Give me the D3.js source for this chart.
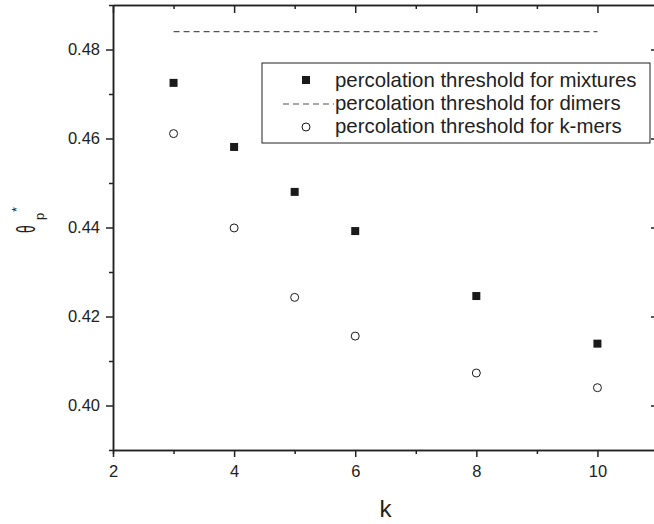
<!DOCTYPE html>
<html>
<head>
<meta charset="utf-8">
<script src="https://cdn.jsdelivr.net/npm/d3@7"></script>
<style>
  body { margin: 0; background: #fff; }
  svg { display: block; font-family: "Liberation Sans", Arial, sans-serif; }
  .axis path, .axis line { stroke: #222; stroke-width: 1.5px; }
  .axis text { fill: #222; font-size: 16.5px; }
</style>
</head>
<body>
<div id="chart"></div>
<script>
// values
var kValues = [3, 4, 5, 6, 8, 10];
var mixtures = [0.4725, 0.4581, 0.4480, 0.4392, 0.4246, 0.4139];
var kmers = [0.4611, 0.4399, 0.4243, 0.4156, 0.4073, 0.4040];
var dimersK = [3, 10];
var dimersValue = 0.484;

var xMajor = [2, 4, 6, 8, 10];
var xMinor = [3, 5, 7, 9];
var yMajor = [0.40, 0.42, 0.44, 0.46, 0.48];
var yMinor = [0.39, 0.41, 0.43, 0.45, 0.47, 0.49];
var legendLabels = ["percolation threshold for mixtures",
                    "percolation threshold for dimers",
                    "percolation threshold for k-mers"];

var width = 654, height = 524;
var svg = d3.select("#chart").append("svg").attr("width", width).attr("height", height);

var x = d3.scaleLinear().domain([2, 11]).range([113, 658]);
var y = d3.scaleLinear().domain([0.39, 0.49]).range([450, 5]);

var top0 = y.range()[1], bot0 = y.range()[0], left0 = x.range()[0], right0 = x.range()[1];

// minor ticks first so the major ones draw on top
function noLabels(a) { return a.tickFormat(""); }

// bottom
svg.append("g").attr("class", "axis").attr("transform", "translate(0," + bot0 + ")")
  .call(noLabels(d3.axisBottom(x).tickValues(xMinor).tickSize(4)));
svg.append("g").attr("class", "axis").attr("transform", "translate(0," + bot0 + ")")
  .call(d3.axisBottom(x).tickValues(xMajor).tickSize(7).tickSizeOuter(0).tickPadding(8).tickFormat(d3.format("d")));
// top (ticks inward)
svg.append("g").attr("class", "axis").attr("transform", "translate(0," + top0 + ")")
  .call(noLabels(d3.axisBottom(x).tickValues(xMinor).tickSize(4).tickSizeOuter(0)));
svg.append("g").attr("class", "axis").attr("transform", "translate(0," + top0 + ")")
  .call(noLabels(d3.axisBottom(x).tickValues(xMajor).tickSize(8).tickSizeOuter(0)));
// left
svg.append("g").attr("class", "axis").attr("transform", "translate(" + left0 + ",0)")
  .call(noLabels(d3.axisLeft(y).tickValues(yMinor).tickSize(4).tickSizeOuter(0)));
svg.append("g").attr("class", "axis").attr("transform", "translate(" + left0 + ",0)")
  .call(d3.axisLeft(y).tickValues(yMajor).tickSize(7).tickSizeOuter(0).tickPadding(6).tickFormat(d3.format(".2f")));
// right (ticks inward)
svg.append("g").attr("class", "axis").attr("transform", "translate(" + right0 + ",0)")
  .call(noLabels(d3.axisLeft(y).tickValues(yMinor).tickSize(4).tickSizeOuter(0)));
svg.append("g").attr("class", "axis").attr("transform", "translate(" + right0 + ",0)")
  .call(noLabels(d3.axisLeft(y).tickValues(yMajor).tickSize(7).tickSizeOuter(0)));

// dimers threshold
svg.append("line")
  .attr("x1", x(dimersK[0])).attr("x2", x(dimersK[1]))
  .attr("y1", y(dimersValue)).attr("y2", y(dimersValue))
  .attr("stroke", "#555").attr("stroke-width", 1.2).attr("stroke-dasharray", "6,4");

// mixtures squares
svg.selectAll(".sq").data(kValues).enter().append("rect")
  .attr("class", "sq")
  .attr("x", function(d) { return x(d) - 4; })
  .attr("y", function(d, i) { return y(mixtures[i]) - 4; })
  .attr("width", 8).attr("height", 8)
  .attr("fill", "#1a1a1a");

// k-mers circles
svg.selectAll(".ci").data(kValues).enter().append("circle")
  .attr("class", "ci")
  .attr("cx", function(d) { return x(d); })
  .attr("cy", function(d, i) { return y(kmers[i]); })
  .attr("r", 4)
  .attr("fill", "#fff").attr("stroke", "#1a1a1a").attr("stroke-width", 1);

// legend
var lg = svg.append("g").attr("transform", "translate(262,63)");
lg.append("rect").attr("width", 388).attr("height", 80)
  .attr("fill", "#fff").attr("stroke", "#222").attr("stroke-width", 1);
lg.append("rect").attr("x", 40).attr("y", 13).attr("width", 8).attr("height", 8).attr("fill", "#1a1a1a");
lg.append("line").attr("x1", 21).attr("x2", 72).attr("y1", 41).attr("y2", 41)
  .attr("stroke", "#555").attr("stroke-width", 1.2).attr("stroke-dasharray", "6,4");
lg.append("circle").attr("cx", 44).attr("cy", 64).attr("r", 4)
  .attr("fill", "#fff").attr("stroke", "#1a1a1a");
lg.selectAll(".lt").data(legendLabels).enter().append("text")
  .attr("class", "lt")
  .attr("x", 73)
  .attr("y", function(d, i) { return 24 + i * 23; })
  .attr("font-size", "20.4px").attr("fill", "#222")
  .text(function(d) { return d; });

// axis titles
svg.append("text")
  .attr("x", (left0 + right0) / 2).attr("y", 517)
  .attr("text-anchor", "middle").attr("font-size", "24px").attr("fill", "#222")
  .text("k");

var yt = svg.append("g").attr("transform", "translate(35,233) rotate(-90)");
yt.append("text").attr("transform", "scale(0.55,1)")
  .attr("font-size", "25px").attr("fill", "#222").text("θ");
yt.append("text").attr("x", 13).attr("y", 9)
  .attr("font-size", "13px").attr("fill", "#222").text("p");
yt.append("text").attr("x", 21).attr("y", -14)
  .attr("font-size", "13px").attr("fill", "#222").text("*");
</script>
</body>
</html>
